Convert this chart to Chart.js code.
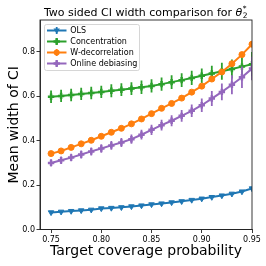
<!DOCTYPE html>
<html><head><meta charset="utf-8">
<script src="https://cdn.jsdelivr.net/npm/chart.js"></script>
<style>html,body{margin:0;padding:0;background:#fff;}canvas{display:block;}</style>
</head><body>
<canvas id="c" width="266" height="266"></canvas>
<script>
const coverage = [0.75,0.76,0.77,0.78,0.79,0.80,0.81,0.82,0.83,0.84,0.85,0.86,0.87,0.88,0.89,0.90,0.91,0.92,0.93,0.94,0.95];
const seriesNames = ['OLS','Concentration','W-decorrelation','Online debiasing'];
const olsWidth = [0.077,0.080,0.083,0.086,0.089,0.095,0.097,0.100,0.104,0.108,0.113,0.117,0.122,0.127,0.133,0.139,0.146,0.153,0.161,0.171,0.185];
const olsErr = [0.003,0.003,0.003,0.003,0.003,0.003,0.003,0.003,0.003,0.003,0.003,0.003,0.003,0.003,0.003,0.003,0.003,0.003,0.003,0.003,0.003];
const concWidth = [0.598,0.602,0.606,0.611,0.615,0.620,0.625,0.630,0.635,0.641,0.647,0.655,0.664,0.673,0.683,0.693,0.703,0.713,0.723,0.734,0.745];
const concErr = [0.028,0.028,0.028,0.028,0.028,0.028,0.029,0.029,0.029,0.030,0.030,0.030,0.031,0.031,0.032,0.033,0.035,0.038,0.043,0.048,0.055];
const wdecWidth = [0.342,0.354,0.370,0.386,0.402,0.420,0.438,0.456,0.476,0.498,0.522,0.546,0.568,0.592,0.619,0.646,0.678,0.710,0.747,0.788,0.835];
const wdecErr = [0.004,0.004,0.004,0.004,0.004,0.004,0.004,0.004,0.004,0.004,0.004,0.004,0.004,0.004,0.004,0.004,0.004,0.004,0.004,0.004,0.004];
const onlineWidth = [0.300,0.312,0.324,0.338,0.352,0.365,0.379,0.392,0.407,0.427,0.449,0.470,0.490,0.512,0.535,0.560,0.590,0.620,0.652,0.686,0.725];
const onlineErr = [0.016,0.017,0.017,0.018,0.018,0.019,0.020,0.020,0.021,0.022,0.023,0.024,0.025,0.026,0.028,0.030,0.034,0.038,0.043,0.048,0.053];
const xTicks = [0.75,0.80,0.85,0.90,0.95];
const yTicks = [0.0,0.2,0.4,0.6,0.8];

const FONT = "'DejaVu Sans', sans-serif";
const colors = ['#1f77b4','#2ca02c','#ff7f0e','#9467bd'];
const styles = [
  {pointStyle:'triangle', rot:180, r:3.2, bw:1},
  {pointStyle:'cross', rot:0, r:3.2, bw:2.5},
  {pointStyle:'circle', rot:0, r:3, bw:1},
  {pointStyle:'cross', rot:0, r:3.2, bw:2.5}
];
const widths = [olsWidth, concWidth, wdecWidth, onlineWidth];
const errs = [olsErr, concErr, wdecErr, onlineErr];

const datasets = seriesNames.map((name,i)=>({
  label: name,
  data: coverage.map((x,j)=>({x:x, y:widths[i][j]})),
  errors: errs[i],
  borderColor: colors[i],
  backgroundColor: colors[i],
  pointBackgroundColor: colors[i],
  pointBorderColor: colors[i],
  pointStyle: styles[i].pointStyle,
  pointRotation: styles[i].rot,
  pointRadius: styles[i].r,
  pointBorderWidth: styles[i].bw,
  borderWidth: 2,
  tension: 0,
  fill: false,
  clip: 0,
  order: 10 - i
}));

const errorBars = {
  id: 'errorBars',
  beforeDatasetDraw(chart, args) {
    const ds = chart.data.datasets[args.index];
    const meta = args.meta;
    const y = chart.scales.y;
    const ctx = chart.ctx, a = chart.chartArea;
    ctx.save();
    ctx.beginPath(); ctx.rect(a.left, a.top, a.right - a.left, a.bottom - a.top); ctx.clip();
    ctx.strokeStyle = ds.borderColor; ctx.lineWidth = 1.8;
    meta.data.forEach((pt, j) => {
      const v = ds.data[j].y, e = ds.errors[j];
      ctx.beginPath();
      ctx.moveTo(pt.x, y.getPixelForValue(v - e));
      ctx.lineTo(pt.x, y.getPixelForValue(v + e));
      ctx.stroke();
    });
    ctx.restore();
  }
};

function drawMarker(ctx, style, x, y, color) {
  ctx.save();
  ctx.fillStyle = color; ctx.strokeStyle = color;
  const r = style.r;
  if (style.pointStyle === 'triangle') {
    ctx.beginPath();
    ctx.moveTo(x - r, y - r*0.6); ctx.lineTo(x + r, y - r*0.6); ctx.lineTo(x, y + r); ctx.closePath(); ctx.fill();
  } else if (style.pointStyle === 'circle') {
    ctx.beginPath(); ctx.arc(x, y, r, 0, Math.PI*2); ctx.fill();
  } else {
    ctx.lineWidth = style.bw;
    ctx.beginPath(); ctx.moveTo(x - r, y); ctx.lineTo(x + r, y); ctx.moveTo(x, y - r); ctx.lineTo(x, y + r); ctx.stroke();
  }
  ctx.restore();
}

const framePlugin = {
  id: 'frameLegendTitle',
  afterDraw(chart) {
    const ctx = chart.ctx, a = chart.chartArea;
    ctx.save();
    ctx.strokeStyle = '#222'; ctx.lineWidth = 0.9;
    ctx.strokeRect(a.left, a.top, a.right - a.left, a.bottom - a.top);
    // legend
    const bx = 44, by = 24, bw = 95, bh = 46;
    ctx.fillStyle = 'rgba(255,255,255,0.85)';
    ctx.strokeStyle = '#cccccc'; ctx.lineWidth = 0.8;
    ctx.beginPath();
    if (ctx.roundRect) ctx.roundRect(bx+0.5, by+0.5, bw, bh, 2); else ctx.rect(bx+0.5, by+0.5, bw, bh);
    ctx.fill(); ctx.stroke();
    seriesNames.forEach((name, i) => {
      const yy = 30.5 + i * 11;
      ctx.strokeStyle = colors[i]; ctx.lineWidth = 2;
      ctx.beginPath(); ctx.moveTo(47, yy); ctx.lineTo(66.5, yy); ctx.stroke();
      ctx.lineWidth = 1.8;
      ctx.beginPath(); ctx.moveTo(56.7, yy - 3.5); ctx.lineTo(56.7, yy + 3.5); ctx.stroke();
      drawMarker(ctx, styles[i], 56.7, yy, colors[i]);
      ctx.fillStyle = '#000'; ctx.font = '8px ' + FONT;
      ctx.textBaseline = 'middle'; ctx.textAlign = 'left';
      ctx.fillText(name, 70.3, yy + 0.5);
    });
    // title
    const cx = (a.left + a.right) / 2, ty = 11.5;
    const main = 'Two sided CI width comparison for ';
    ctx.fillStyle = '#000'; ctx.textBaseline = 'alphabetic'; ctx.textAlign = 'left';
    ctx.font = '11px ' + FONT; const wMain = ctx.measureText(main).width;
    ctx.font = 'italic 11px ' + FONT; const wTheta = ctx.measureText('θ').width;
    ctx.font = '7.5px ' + FONT; const wSub = Math.max(ctx.measureText('2').width, ctx.measureText('*').width);
    const total = wMain + wTheta + wSub + 1;
    let x0 = cx - total / 2;
    const base = ty + 4;
    ctx.font = '11px ' + FONT; ctx.fillText(main, x0, base);
    ctx.font = 'italic 11px ' + FONT; ctx.fillText('θ', x0 + wMain, base);
    ctx.font = '7.5px ' + FONT;
    ctx.fillText('2', x0 + wMain + wTheta + 0.5, base + 2.5);
    ctx.fillText('*', x0 + wMain + wTheta + 0.5, base - 4.5);
    ctx.restore();
  }
};

new Chart(document.getElementById('c'), {
  type: 'line',
  data: { datasets },
  options: {
    responsive: false, animation: false, devicePixelRatio: 1,
    layout: { padding: { left: 0, right: 14, top: 20, bottom: 0 } },
    plugins: { legend: { display: false }, tooltip: { enabled: false }, title: { display: false } },
    scales: {
      x: {
        type: 'linear', min: 0.739, max: 0.95,
        afterFit(s) { s.height = 36.5; },
        afterBuildTicks(s) { s.ticks = xTicks.map(v => ({ value: v })); },
        ticks: { callback: v => v.toFixed(2), font: { family: FONT, size: 8 }, color: '#000', padding: 2, maxRotation: 0, autoSkip: false },
        grid: { display: true, drawOnChartArea: false, drawTicks: true, tickLength: 3.5, color: '#222', lineWidth: 0.9 },
        border: { display: true, color: '#222', width: 0.9 },
        title: { display: true, text: 'Target coverage probability', font: { family: FONT, size: 14 }, color: '#000', padding: { top: 0, bottom: 6 } }
      },
      y: {
        type: 'linear', min: 0, max: 0.944,
        afterFit(s) { s.width = 40; },
        afterBuildTicks(s) { s.ticks = yTicks.map(v => ({ value: v })); },
        ticks: { callback: v => v.toFixed(1), font: { family: FONT, size: 8 }, color: '#000', padding: 1.5, autoSkip: false },
        grid: { display: true, drawOnChartArea: false, drawTicks: true, tickLength: 3.5, color: '#222', lineWidth: 0.9 },
        border: { display: true, color: '#222', width: 0.9 },
        title: { display: true, text: 'Mean width of CI', font: { family: FONT, size: 14 }, color: '#000', padding: { top: 5.6, bottom: 0 } }
      }
    }
  },
  plugins: [errorBars, framePlugin]
});
</script>
</body></html>
